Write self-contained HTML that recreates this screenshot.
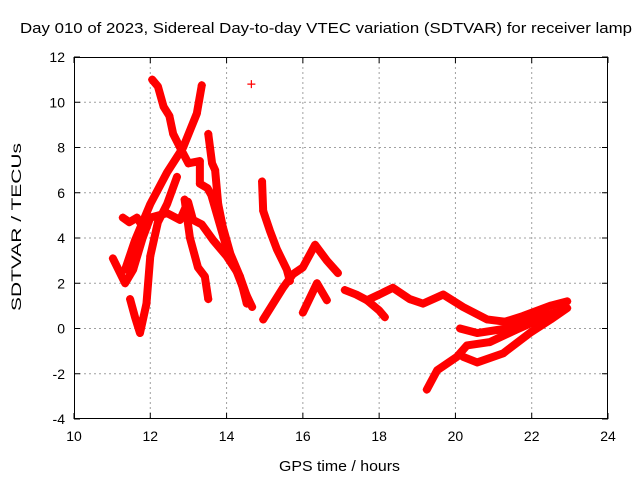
<!DOCTYPE html>
<html><head><meta charset="utf-8"><style>
body{margin:0;background:#fff}
svg{display:block;font-family:"Liberation Sans",sans-serif}
</style></head><body>
<svg id="chart" width="640" height="480">
<text x="20" y="33" font-size="15" textLength="612" lengthAdjust="spacingAndGlyphs">Day 010 of 2023, Sidereal Day-to-day VTEC variation (SDTVAR) for receiver lamp</text>
<text x="279" y="471" font-size="15" textLength="121" lengthAdjust="spacingAndGlyphs">GPS time / hours</text>
<text transform="translate(21,311) rotate(-90)" font-size="14" textLength="168" lengthAdjust="spacingAndGlyphs">SDTVAR / TECUs</text>
<g id="grid"></g><g id="axes"></g><g id="marks"></g>
</svg>
<script>
const xTicks=[10,12,14,16,18,20,22,24];
const yTicks=[-4,-2,0,2,4,6,8,10,12];
const trackA_x=[12.05,12.2,12.35,12.5,12.6,12.78,13.0,13.3,13.3,13.5,13.6,13.96,14.2,14.43,14.67];
const trackA_y=[11.0,10.7,9.8,9.4,8.6,8.0,7.3,7.4,6.4,6.2,5.9,3.8,2.8,1.8,0.95];
const trackB_x=[11.34,11.6,12.0,12.44,12.86,13.22,13.35];
const trackB_y=[2.6,3.9,5.5,6.9,8.0,9.5,10.75];
const trackC_x=[11.47,11.6,11.73,11.9,12.0,12.2,12.44,12.7];
const trackC_y=[1.3,0.5,-0.2,1.1,3.2,4.7,5.5,6.7];
const trackD_x=[11.02,11.34,11.55,11.8,12.0,12.44,12.78,12.99,13.12,13.35,13.65,14.0,14.35,14.6];
const trackD_y=[3.1,2.0,2.6,4.0,4.9,5.1,4.8,5.6,4.8,4.6,3.9,3.2,2.3,1.1];
const trackD2_x=[11.28,11.45,11.65,11.8];
const trackD2_y=[4.9,4.7,4.9,4.5];
const trackE_x=[12.9,13.04,13.25,13.43,13.52];
const trackE_y=[5.7,4.0,2.7,2.3,1.3];
const trackF_x=[13.52,13.62,13.7,13.78,13.9,14.1,14.35,14.53];
const trackF_y=[8.6,7.3,7.0,5.5,4.5,3.3,2.3,1.1];
const trackG_x=[14.93,14.96,15.14,15.32,15.58,15.66];
const trackG_y=[6.5,5.2,4.3,3.5,2.6,2.1];
const trackH_x=[14.96,15.22,15.48,15.74,16.0,16.32,16.63,16.92];
const trackH_y=[0.4,1.1,1.8,2.4,2.7,3.7,3.0,2.45];
const trackI_x=[16.0,16.37,16.63];
const trackI_y=[0.7,2.0,1.25];
const trackJ_x=[17.1,17.4,17.68,18.0,18.36,18.8,19.15,19.68,20.2,20.83,21.3,21.77,22.48,22.93];
const trackJ_y=[1.7,1.5,1.25,1.5,1.8,1.3,1.1,1.5,0.95,0.4,0.3,0.55,1.0,1.2];
const trackK_x=[17.68,18.0,18.15];
const trackK_y=[1.25,0.8,0.5];
const trackL_x=[19.25,19.52,20.04,20.3,20.9,21.6,22.0,22.5,22.9];
const trackL_y=[-2.7,-1.85,-1.25,-0.75,-0.6,-0.05,0.25,0.6,0.9];
const trackM_x=[20.2,20.57,21.25,21.95,22.5,22.93];
const trackM_y=[-1.25,-1.5,-1.1,-0.2,0.4,0.9];
const trackN_x=[20.12,20.57,21.35,22.0,22.6];
const trackN_y=[0.0,-0.2,0.0,0.4,0.7];
const outlier_x=[14.65];
const outlier_y=[10.8];
const tracks=[[trackA_x,trackA_y],[trackB_x,trackB_y],[trackC_x,trackC_y],[trackD_x,trackD_y],[trackD2_x,trackD2_y],[trackE_x,trackE_y],[trackF_x,trackF_y],[trackG_x,trackG_y],[trackH_x,trackH_y],[trackI_x,trackI_y],[trackJ_x,trackJ_y],[trackK_x,trackK_y],[trackL_x,trackL_y],[trackM_x,trackM_y],[trackN_x,trackN_y],[outlier_x,outlier_y]];
const L=74,R=608,T=57,B=419;
const sx=v=>L+(v-10)/14*(R-L);
const sy=v=>B-(v+4)/16*(B-T);
const NS="http://www.w3.org/2000/svg";
function mk(tag,attrs,parent){const e=document.createElementNS(NS,tag);for(const k in attrs)e.setAttribute(k,attrs[k]);parent.appendChild(e);return e;}
const grid=document.getElementById('grid'),axes=document.getElementById('axes'),marks=document.getElementById('marks');
xTicks.forEach(t=>{const x=sx(t);
 if(t>10&&t<24){const g=mk('line',{x1:x,x2:x,y1:T,y2:B,stroke:'#a0a0a0','stroke-dasharray':'2,3'},grid);
 
 }
 mk('line',{x1:x,x2:x,y1:B,y2:B-6,stroke:'#000'},axes);mk('line',{x1:x,x2:x,y1:T,y2:T+6,stroke:'#000'},axes);
 const tx=mk('text',{x:x,y:B+22,'font-size':14,'text-anchor':'middle'},axes);tx.textContent=t;
 
 });
yTicks.forEach(t=>{const y=sy(t);
 if(t>-4&&t<12){const g=mk('line',{x1:L,x2:R,y1:y,y2:y,stroke:'#a0a0a0','stroke-dasharray':'2,3'},grid);
 
 }
 mk('line',{x1:L,x2:L+6,y1:y,y2:y,stroke:'#000'},axes);mk('line',{x1:R,x2:R-6,y1:y,y2:y,stroke:'#000'},axes);
 const tx=mk('text',{x:L-9,y:y+5,'font-size':14,'text-anchor':'end'},axes);tx.textContent=t;
 
 });
const fr=mk('rect',{x:L+0.5,y:T+0.5,width:R-L-1,height:B-T-1,fill:'none',stroke:'#000'},axes);


tracks.forEach(([xs,ys])=>{
 if(xs.length>1){const pl=mk('polyline',{points:xs.map((x,i)=>sx(x)+','+sy(ys[i])).join(' '),fill:'none',stroke:'#f00','stroke-width':8,'stroke-linejoin':'round','stroke-linecap':'round'},marks);
 
 }
 xs.forEach((x,i)=>{const px=sx(x),py=sy(ys[i]);
  const p=mk('path',{d:`M${px-4},${py}H${px+4}M${px},${py-4}V${py+4}`,stroke:'#f00','stroke-width':1.2},marks);
  
  });
});
</script>
</body></html>
